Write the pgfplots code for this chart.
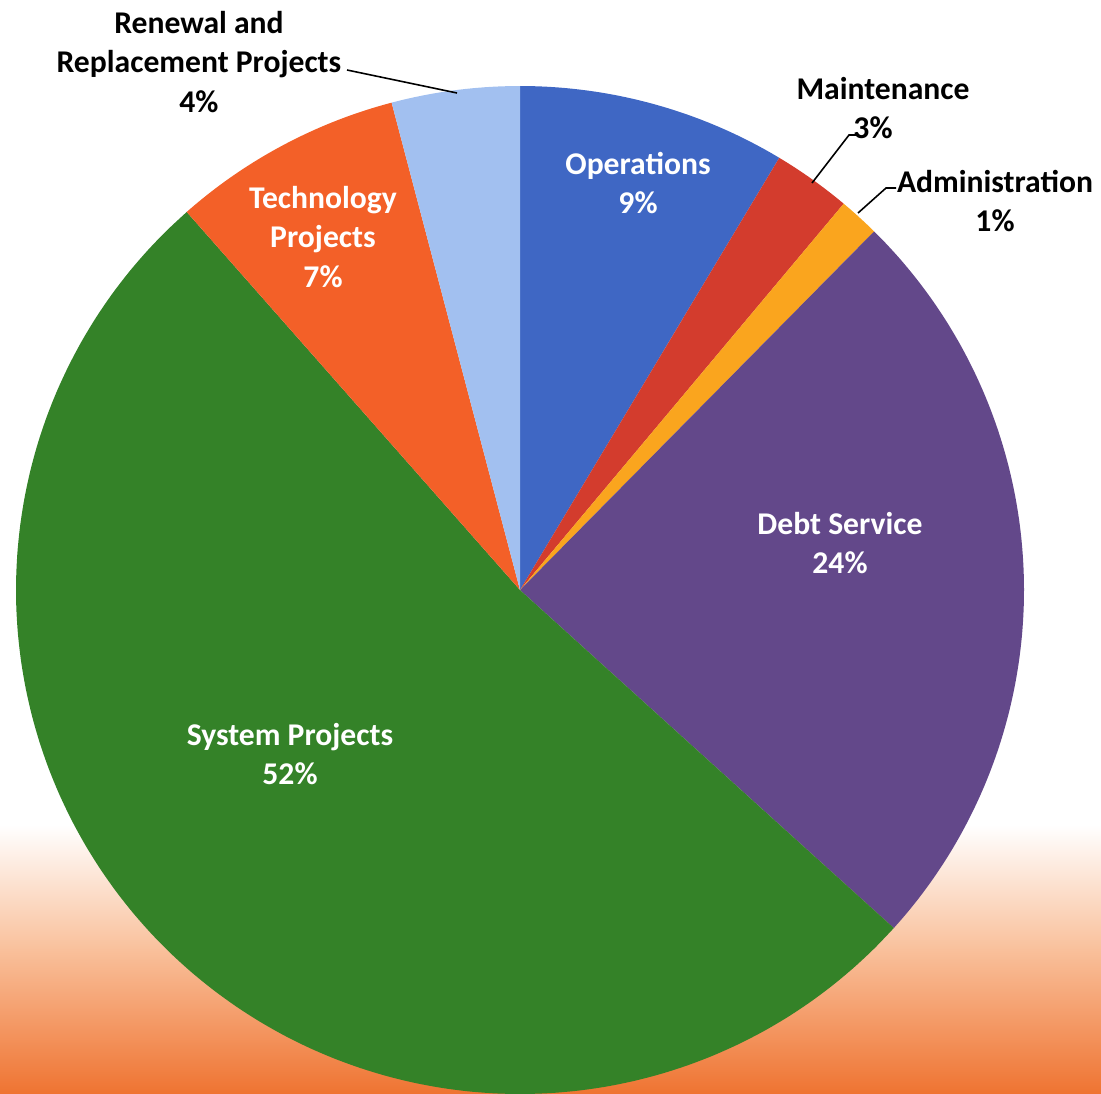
\documentclass[border=0pt]{standalone}
\usepackage{pgfplots}
\pgfplotsset{compat=1.18}
\usepackage{pgfplotstable}
\usepackage{fontspec}
\setmainfont{Carlito}
\definecolor{cOps}{RGB}{63,103,196}
\definecolor{cMai}{RGB}{211,60,45}
\definecolor{cAdm}{RGB}{250,165,30}
\definecolor{cDebt}{RGB}{99,72,138}
\definecolor{cSys}{RGB}{52,130,40}
\definecolor{cTech}{RGB}{243,96,40}
\definecolor{cRen}{RGB}{162,192,240}
\definecolor{bgA}{RGB}{249,192,155}
\definecolor{bgB}{RGB}{239,116,50}
% share of each slice, in percent, clockwise from the top
\pgfplotstableread{
name pct col
Operations 8.6 cOps
Maintenance 2.5 cMai
Administration 1.3 cAdm
DebtService 24.3 cDebt
SystemProjects 51.8 cSys
TechnologyProjects 7.4 cTech
Renewal 4.1 cRen
}\pietable
\newcommand{\lbl}{\fontsize{9.0}{11.2}\selectfont\bfseries}
\begin{document}
\begin{tikzpicture}
\begin{axis}[
  name=ax,
  width=11.01cm, height=10.93cm, scale only axis,
  xmin=0, xmax=1101, ymin=0, ymax=1093,
  hide axis, clip=false,
]
% background gradient at the bottom
\shade[top color=white, bottom color=bgA] (axis cs:0,268) rectangle (axis cs:1101,143);
\shade[top color=bgA, bottom color=bgB] (axis cs:0,143.5) rectangle (axis cs:1101,0);
% pie slices
\def\curang{90}
\pgfplotsforeachungrouped \i in {0,...,6}{
  \pgfplotstablegetelem{\i}{pct}\of{\pietable}\let\pc\pgfplotsretval
  \pgfplotstablegetelem{\i}{col}\of{\pietable}\let\cc\pgfplotsretval
  \pgfmathsetmacro{\endang}{\curang-3.6*\pc}
  \edef\temp{\noexpand\fill[\cc] (axis cs:520,503) -- plot[domain=\curang:\endang, samples=60, smooth] ({520+504*cos(\noexpand\x)},{503+504*sin(\noexpand\x)}) -- cycle;}
  \temp
  \global\let\curang\endang
}
% labels
\node[white, align=center, font=\lbl] at (axis cs:638,910) {Operations\\9\%};
\node[white, align=center, font=\lbl] at (axis cs:323,856) {Technology\\Projects\\7\%};
\node[white, align=center, font=\lbl] at (axis cs:840,550) {Debt Service\\24\%};
\node[white, align=center, font=\lbl] at (axis cs:290,339) {System Projects\\52\%};
\node[black, align=center, font=\lbl] at (axis cs:199,1031) {Renewal and\\Replacement Projects\\4\%};
\node[black, font=\lbl] at (axis cs:883,1004) {Maintenance};
\node[black, font=\lbl] at (axis cs:873,965) {3\%};
\node[black, align=center, font=\lbl] at (axis cs:995,892) {Administration\\1\%};
\draw[black, line width=0.45pt] (axis cs:347,1023) -- (axis cs:457,1000);
\draw[black, line width=0.45pt] (axis cs:812,910) -- (axis cs:849,958) -- (axis cs:858,958);
\draw[black, line width=0.45pt] (axis cs:858,880) -- (axis cs:886,905) -- (axis cs:896,905);
\end{axis}
\pgfresetboundingbox
\path[use as bounding box] (ax.south west) rectangle (ax.north east);
\end{tikzpicture}
\end{document}
